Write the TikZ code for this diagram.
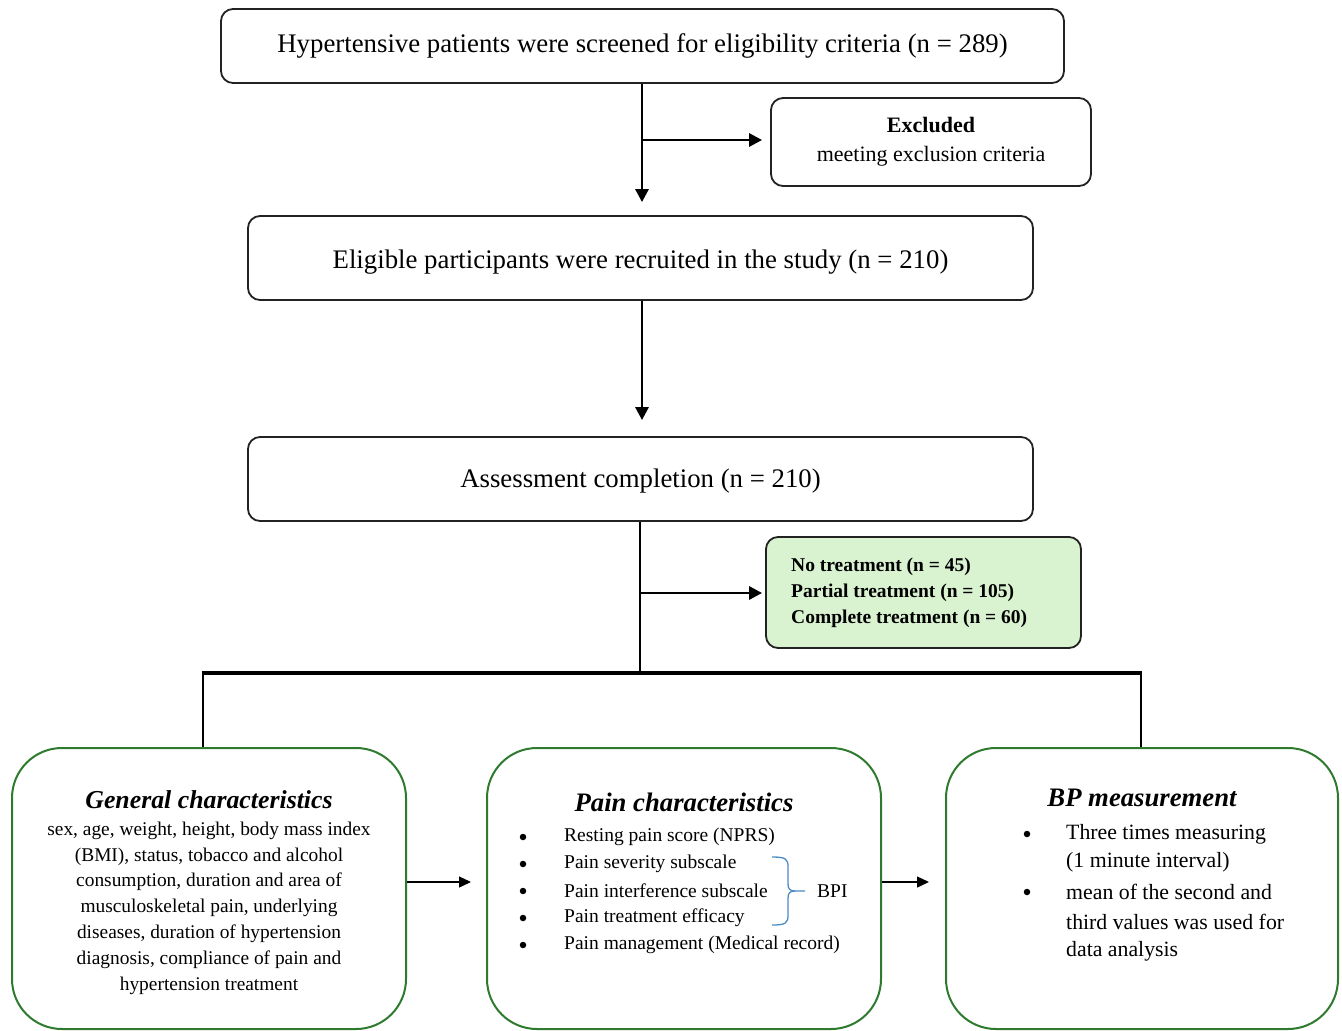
\documentclass[tikz,border=0pt]{standalone}
\usepackage{fontspec}
\setmainfont{Liberation Serif}
\usetikzlibrary{arrows.meta}
\definecolor{boxgreen}{HTML}{2E7A2E}
\definecolor{treatfill}{HTML}{D9F2D0}
\definecolor{bracecol}{HTML}{4A8CC4}
\definecolor{linegray}{HTML}{222222}
\tikzset{
  topbox/.style={draw=linegray, line width=1.8pt, rounded corners=12pt, fill=white, inner sep=0pt},
  greenbox/.style={draw=boxgreen, line width=2pt, rounded corners=50pt, fill=white, inner sep=0pt},
  flowarr/.style={line width=2.8pt, -{Triangle[length=13pt,width=13pt]}},
  busline/.style={line width=2.8pt},
  thinarr/.style={line width=1.3pt, -{Triangle[length=12pt,width=11pt]}},
  bigtxt/.style={font=\fontsize{26.8}{30}\selectfont},
  midtxt/.style={font=\fontsize{19.4}{25.8}\selectfont},
  listtxt/.style={font=\fontsize{19.5}{22}\selectfont, anchor=west, inner sep=0pt},
  bptxt/.style={font=\fontsize{21.8}{24}\selectfont, anchor=west, inner sep=0pt},
  dotbul/.style={circle, fill=black, inner sep=0pt, minimum size=6.5pt},
  titletxt/.style={font=\fontsize{26.7}{30}\selectfont\bfseries\itshape},
}
\begin{document}
\begin{tikzpicture}[x=1pt,y=-1pt]
\useasboundingbox (0,0) rectangle (1342,1031);
% top boxes
\node[topbox, minimum width=843pt, minimum height=74pt] (box1) at (642.5,46) {};
\node[bigtxt] (t1) at (642.5,46) {Hypertensive patients were screened for eligibility criteria (n = 289)};
\node[topbox, minimum width=320pt, minimum height=88pt] (excl) at (931,142) {};
\node[font=\fontsize{22}{29}\selectfont, align=center] (te) at (931,142) {\textbf{Excluded}\\meeting exclusion criteria};
\node[topbox, minimum width=785pt, minimum height=84pt] (box2) at (640.5,258) {};
\node[bigtxt] (t2) at (640.5,262) {Eligible participants were recruited in the study (n = 210)};
\node[topbox, minimum width=785pt, minimum height=84pt] (box3) at (640.5,479) {};
\node[bigtxt] (t3) at (640.5,481) {Assessment completion (n = 210)};
\node[topbox, fill=treatfill, minimum width=315pt, minimum height=111pt] (treat) at (923.5,592.5) {};
\node[font=\fontsize{19.5}{26}\selectfont\bfseries, align=left, anchor=west, inner sep=0pt] (tt) at (791,593) {No treatment (n = 45)\\Partial treatment (n = 105)\\Complete treatment (n = 60)};
% connectors top
\draw[flowarr, shorten >=13pt] (box1.south -| 642,0) -- (box2.north -| 642,0);
\draw[flowarr, shorten >=8pt] (642,140) -- (excl.west |- 0,140);
\draw[flowarr, shorten >=16pt] (box2.south -| 642,0) -- (box3.north -| 642,0);
\coordinate (busc) at (640,673);
\draw[busline] (box3.south -| 640,0) -- (busc);
\draw[flowarr, shorten >=3pt] (640,593) -- (treat.west |- 0,593);
% bottom boxes
\node[greenbox, minimum width=394pt, minimum height=281pt] (gen) at (209,888.5) {};
\node[greenbox, minimum width=394pt, minimum height=281pt] (pain) at (684,888.5) {};
\node[greenbox, minimum width=392pt, minimum height=281pt] (bp) at (1142,888.5) {};
\coordinate (busl) at (203,673);
\coordinate (busr) at (1141,673);
\draw[line width=3.5pt] ([xshift=-1.4pt]busl) -- ([xshift=1.4pt]busr);
\draw[busline] (busl) -- (busl |- gen.north);
\draw[busline] (busr) -- (busr |- bp.north);
\draw[thinarr, shorten >=15pt] ([yshift=6.5pt]gen.east) -- ([yshift=6.5pt]pain.west);
\draw[thinarr, shorten >=16pt] ([yshift=6.5pt]pain.east) -- ([yshift=6.5pt]bp.west);
% General
\node[titletxt, font=\fontsize{25.8}{30}\selectfont\bfseries\itshape] (gt) at (209,800) {General characteristics};
\node[midtxt, align=center] (gb) at (209,908) {sex, age, weight, height, body mass index\\(BMI), status, tobacco and alcohol\\consumption, duration and area of\\musculoskeletal pain, underlying\\diseases, duration of hypertension\\diagnosis, compliance of pain and\\hypertension treatment};
% Pain
\node[titletxt] (pt) at (684,802) {Pain characteristics};
\foreach \t [count=\i] in {{Resting pain score (NPRS)},{Pain severity subscale},{Pain interference subscale},{Pain treatment efficacy},{Pain management (Medical record)}}{
  \node[dotbul] (pbul\i) at (523,{837+27*(\i-1)}) {};
  \node[listtxt] (pl\i) at (564,{837+27*(\i-1)}) {\t};
}
\draw[bracecol, line width=1.3pt] (772,857) .. controls (786,857) and (788,859) .. (788,867) -- (788,884) .. controls (788,889) and (790,891) .. (795,891) -- (805,891);
\draw[bracecol, line width=1.3pt] (772,925) .. controls (786,925) and (788,923) .. (788,915) -- (788,898) .. controls (788,893) and (790,891) .. (795,891);
\node[listtxt] (bpi) at (817,891) {BPI};
% BP
\node[titletxt] (bt) at (1142,798) {BP measurement};
\node[dotbul] (bb1) at (1027,834) {};
\node[bptxt] (bl1) at (1066,834) {Three times measuring};
\node[bptxt] (bl2) at (1066,862) {(1 minute interval)};
\node[dotbul] (bb2) at (1027,892) {};
\node[bptxt] (bl3) at (1066,892) {mean of the second and};
\node[bptxt] (bl4) at (1066,922) {third values was used for};
\node[bptxt] (bl5) at (1066,951) {data analysis};
\end{tikzpicture}
\end{document}
